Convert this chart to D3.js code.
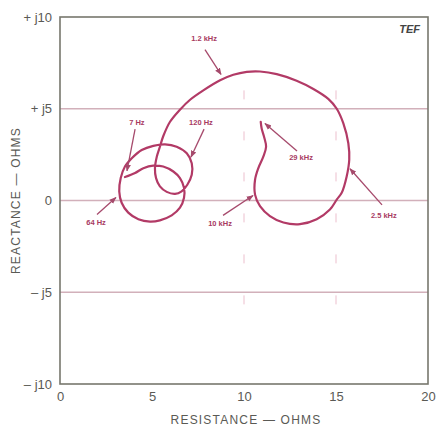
<!DOCTYPE html>
<html>
<head>
<meta charset="utf-8">
<script src="https://cdn.jsdelivr.net/npm/d3@7"></script>
<style>
  html, body { margin: 0; padding: 0; background: #fff; }
  svg { display: block; }
</style>
</head>
<body>
<svg id="chart" width="436" height="429"></svg>
<script>
// ---- data ----
const xTicks = [0, 5, 10, 15, 20];
const xTickLabels = ["0", "5", "10", "15", "20"];
const yTicks = [10, 5, 0, -5, -10];
const yTickLabels = ["+ j10", "+ j5", "0", "\u2013 j5", "\u2013 j10"];

// impedance locus, from 7 Hz to 29 kHz (resistance, reactance in ohms)
const resistance = [3.53, 4.08, 4.53, 5.07, 5.61, 6.16, 6.52, 6.74, 6.74, 6.52, 6.07, 5.43, 4.89, 4.26, 3.71, 3.35, 3.22, 3.30, 3.53, 3.90, 4.44, 5.07, 5.71, 6.34, 6.89, 7.16, 7.16, 6.92, 6.61, 6.25, 5.80, 5.43, 5.22, 5.16, 5.26, 5.43, 5.61,
  5.98, 6.52, 7.07, 7.79, 8.70, 9.42, 10.15, 10.87, 11.78, 12.86, 13.77, 14.58, 15.04, 15.40, 15.67, 15.72, 15.58, 15.31, 15.04, 14.67, 13.95, 13.04, 12.14, 11.41, 10.87, 10.60, 10.60, 10.78, 11.05, 11.20, 11.09, 10.96, 10.91];
const reactance = [1.28, 1.50, 1.76, 1.90, 1.85, 1.58, 1.22, 0.69, 0.15, -0.39, -0.81, -1.08, -1.15, -1.02, -0.66, -0.12, 0.50, 1.22, 1.85, 2.30, 2.75, 2.98, 3.06, 2.93, 2.57, 2.03, 1.40, 0.86, 0.50, 0.36, 0.47, 0.77, 1.22, 1.76, 2.39, 2.93, 3.50,
  4.29, 4.95, 5.49, 6.00, 6.55, 6.85, 7.01, 7.03, 6.89, 6.53, 6.08, 5.54, 5.00, 4.20, 3.12, 2.22, 1.31, 0.42, 0.05, -0.49, -1.02, -1.29, -1.20, -0.85, -0.31, 0.32, 1.13, 1.77, 2.39, 2.93, 3.47, 3.92, 4.28];

// frequency callouts: label, label anchor (R, X), arrow start (R, X), arrow tip on curve (R, X)
const freqLabels = ["7 Hz", "64 Hz", "120 Hz", "1.2 kHz", "2.5 kHz", "10 kHz", "29 kHz"];
const labelR = [4.18, 1.96, 7.66, 7.83, 17.6, 8.7, 13.1];
const labelX = [4.12, -1.35, 4.12, 8.70, -0.95, -1.40, 2.22];
const arrowFromR = [4.08, 2.01, 7.83, 7.88, 17.5, 8.86, 12.88];
const arrowFromX = [3.89, -0.76, 3.89, 8.22, -0.24, -0.81, 2.70];
const arrowToR = [3.64, 3.04, 7.12, 8.75, 15.76, 10.49, 11.14];
const arrowToX = [1.62, 0.16, 2.37, 6.87, 1.73, 0.27, 4.20];

// ---- layout ----
const svg = d3.select("#chart");
const mLeft = 60, mTop = 17, mRight = 428, mBottom = 384;
const x = d3.scaleLinear().domain([0, 20]).range([mLeft, mRight]);
const y = d3.scaleLinear().domain([-10, 10]).range([mBottom, mTop]);

const curveColor = "#b23a66";
const textColor = "#5a5a55";
const fontFam = "'Liberation Sans', Arial, sans-serif";

// grid: horizontal lines
svg.append("g").selectAll("line").data([5, 0, -5]).join("line")
  .attr("x1", mLeft).attr("x2", mRight)
  .attr("y1", d => y(d)).attr("y2", d => y(d))
  .attr("stroke", "#d2b0ba").attr("stroke-width", 1.5);

// grid: faint dashed verticals
svg.append("g").selectAll("line").data([10, 15]).join("line")
  .attr("x1", d => x(d)).attr("x2", d => x(d))
  .attr("y1", y(6)).attr("y2", y(-7))
  .attr("stroke", "#ecbfcd").attr("stroke-width", 1)
  .attr("stroke-dasharray", "9,32");

// frame
svg.append("rect")
  .attr("x", mLeft).attr("y", mTop)
  .attr("width", mRight - mLeft).attr("height", mBottom - mTop)
  .attr("fill", "none").attr("stroke", "#77776d").attr("stroke-width", 1.6);

// axes (labels only)
const xAxis = d3.axisBottom(x).tickValues(xTicks).tickSize(0).tickPadding(8)
  .tickFormat((d, i) => xTickLabels[i]);
const gx = svg.append("g").attr("transform", `translate(0,${mBottom})`).call(xAxis);
gx.select(".domain").remove();
gx.selectAll("text").attr("fill", textColor)
  .style("font-family", fontFam).style("font-size", "13px");

const yAxis = d3.axisLeft(y).tickValues(yTicks).tickSize(0).tickPadding(8)
  .tickFormat((d, i) => yTickLabels[i]);
const gy = svg.append("g").attr("transform", `translate(${mLeft},0)`).call(yAxis);
gy.select(".domain").remove();
gy.selectAll("text").attr("fill", textColor)
  .style("font-family", fontFam).style("font-size", "13px");

// axis titles
svg.append("text")
  .attr("x", (mLeft + mRight) / 2 + 2).attr("y", 424)
  .attr("text-anchor", "middle")
  .attr("fill", textColor)
  .style("font-family", fontFam)
  .style("font-size", "12px").style("letter-spacing", "1.2px")
  .text("RESISTANCE \u2014 OHMS");

svg.append("text")
  .attr("transform", `translate(20,${y(0)}) rotate(-90)`)
  .attr("text-anchor", "middle")
  .attr("fill", textColor)
  .style("font-family", fontFam)
  .style("font-size", "12px").style("letter-spacing", "1.2px")
  .text("REACTANCE \u2014 OHMS");

// TEF mark
svg.append("text")
  .attr("x", mRight - 8).attr("y", mTop + 16)
  .attr("text-anchor", "end")
  .attr("fill", "#444")
  .style("font-family", fontFam)
  .style("font-size", "11px").style("font-weight", "bold").style("font-style", "italic")
  .text("TEF");

// impedance curve
const pts = resistance.map((r, i) => [r, reactance[i]]);
const line = d3.line().x(d => x(d[0])).y(d => y(d[1])).curve(d3.curveCatmullRom.alpha(0.5));
svg.append("path")
  .attr("d", line(pts))
  .attr("fill", "none").attr("stroke", curveColor)
  .attr("stroke-width", 2.2).attr("stroke-linejoin", "round").attr("stroke-linecap", "round");

// arrowhead marker
svg.append("defs").append("marker")
  .attr("id", "ah").attr("viewBox", "0 0 10 10")
  .attr("refX", 9).attr("refY", 5)
  .attr("markerWidth", 7).attr("markerHeight", 7)
  .attr("markerUnits", "userSpaceOnUse")
  .attr("orient", "auto")
  .append("path").attr("d", "M0,1 L10,5 L0,9 Z").attr("fill", "#a64a6c");

// callouts
const cg = svg.append("g");
freqLabels.forEach((t, i) => {
  cg.append("line")
    .attr("x1", x(arrowFromR[i])).attr("y1", y(arrowFromX[i]))
    .attr("x2", x(arrowToR[i])).attr("y2", y(arrowToX[i]))
    .attr("stroke", "#a64a6c").attr("stroke-width", 1.3)
    .attr("marker-end", "url(#ah)");
  cg.append("text")
    .attr("x", x(labelR[i])).attr("y", y(labelX[i]))
    .attr("text-anchor", "middle")
    .attr("fill", "#a83a62")
    .style("font-family", fontFam)
    .style("font-size", "7.5px").style("font-weight", "bold")
    .text(t);
});
</script>
</body>
</html>
